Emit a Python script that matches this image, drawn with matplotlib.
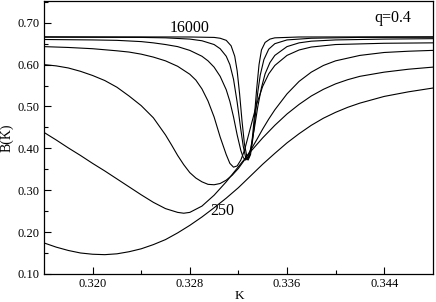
import numpy as np
import matplotlib
matplotlib.use("Agg")
import matplotlib.pyplot as plt

plt.rcParams["font.family"] = "Liberation Serif"

# Binder cumulant B(K) for q=0.4, one curve per system size
k_250 = [0.316, 0.317, 0.318, 0.319, 0.320, 0.321, 0.322, 0.323, 0.324, 0.325,
         0.326, 0.327, 0.328, 0.329, 0.330, 0.331, 0.332, 0.333, 0.334, 0.335,
         0.336, 0.337, 0.338, 0.339, 0.340, 0.341, 0.342, 0.343, 0.344, 0.346, 0.348]
b_250 = [0.174, 0.164, 0.156, 0.150, 0.147, 0.146, 0.148, 0.153, 0.160, 0.170,
         0.182, 0.198, 0.216, 0.236, 0.258, 0.281, 0.306, 0.334, 0.362, 0.388,
         0.413, 0.435, 0.455, 0.472, 0.486, 0.498, 0.508, 0.516, 0.524, 0.535, 0.544]

k_500 = [0.316, 0.317, 0.318, 0.319, 0.320, 0.321, 0.322, 0.323, 0.324, 0.325,
         0.326, 0.327, 0.3275, 0.328, 0.329, 0.330, 0.331, 0.332, 0.333, 0.334,
         0.335, 0.336, 0.337, 0.338, 0.339, 0.340, 0.341, 0.342, 0.344, 0.346, 0.348]
b_500 = [0.438, 0.420, 0.401, 0.383, 0.364, 0.346, 0.327, 0.308, 0.289, 0.271,
         0.256, 0.247, 0.245, 0.247, 0.262, 0.288, 0.320, 0.356, 0.392, 0.425,
         0.455, 0.482, 0.505, 0.525, 0.541, 0.554, 0.564, 0.572, 0.582, 0.589, 0.594]

k_1000 = [0.316, 0.317, 0.318, 0.319, 0.320, 0.321, 0.322, 0.323, 0.324, 0.325,
          0.326, 0.3265, 0.327, 0.3275, 0.328, 0.3285, 0.329, 0.3295, 0.330, 0.3305,
          0.331, 0.3315, 0.332, 0.3325, 0.333, 0.3335, 0.334, 0.3345, 0.335, 0.336,
          0.337, 0.338, 0.339, 0.340, 0.342, 0.344, 0.346, 0.348]
b_1000 = [0.600, 0.597, 0.592, 0.584, 0.574, 0.562, 0.546, 0.525, 0.502, 0.473,
          0.432, 0.408, 0.383, 0.361, 0.342, 0.329, 0.320, 0.314, 0.313, 0.316,
          0.324, 0.336, 0.352, 0.372, 0.395, 0.420, 0.446, 0.470, 0.492, 0.530,
          0.560, 0.582, 0.598, 0.609, 0.622, 0.629, 0.632, 0.634]

k_2000 = [0.316, 0.318, 0.320, 0.322, 0.323, 0.324, 0.325, 0.326, 0.327, 0.328,
          0.3285, 0.329, 0.3295, 0.330, 0.3305, 0.331, 0.3313, 0.3316, 0.3319, 0.3322,
          0.3325, 0.333, 0.3335, 0.334, 0.3345, 0.335, 0.336, 0.337, 0.338, 0.340,
          0.344, 0.348]
b_2000 = [0.643, 0.641, 0.638, 0.633, 0.630, 0.625, 0.618, 0.609, 0.596, 0.577,
          0.563, 0.542, 0.513, 0.475, 0.427, 0.385, 0.364, 0.355, 0.358, 0.372,
          0.395, 0.450, 0.505, 0.548, 0.578, 0.598, 0.622, 0.635, 0.642, 0.648,
          0.651, 0.652]

k_4000 = [0.316, 0.320, 0.322, 0.324, 0.325, 0.326, 0.327, 0.328, 0.329, 0.3295,
          0.330, 0.3305, 0.331, 0.3313, 0.3316, 0.3319, 0.3322, 0.3324, 0.3326, 0.3328,
          0.3330, 0.3333, 0.3336, 0.3339, 0.3342, 0.3346, 0.335, 0.336, 0.337, 0.338,
          0.340, 0.344, 0.348]
b_4000 = [0.660, 0.659, 0.658, 0.655, 0.652, 0.648, 0.643, 0.634, 0.620, 0.609,
          0.594, 0.572, 0.540, 0.512, 0.475, 0.432, 0.395, 0.378, 0.372, 0.378,
          0.398, 0.445, 0.500, 0.545, 0.578, 0.605, 0.622, 0.643, 0.652, 0.656,
          0.659, 0.661, 0.662]

k_8000 = [0.316, 0.324, 0.326, 0.328, 0.329, 0.330, 0.3305, 0.331, 0.3313, 0.3316,
          0.3319, 0.3322, 0.3324, 0.3326, 0.3328, 0.3330, 0.3332, 0.3334, 0.3336, 0.3338,
          0.3341, 0.3345, 0.335, 0.336, 0.338, 0.342, 0.348]
b_8000 = [0.6655, 0.665, 0.664, 0.661, 0.657, 0.648, 0.638, 0.620, 0.600, 0.565,
          0.510, 0.445, 0.405, 0.378, 0.372, 0.385, 0.425, 0.480, 0.535, 0.575,
          0.612, 0.637, 0.650, 0.659, 0.663, 0.665, 0.6655]

k_16000 = [0.316, 0.328, 0.330, 0.3305, 0.331, 0.3314, 0.3317, 0.3319, 0.3321, 0.3323,
           0.3325, 0.3327, 0.3328, 0.3329, 0.3331, 0.3333, 0.3335, 0.3337, 0.3339, 0.3342,
           0.3346, 0.335, 0.337, 0.348]
b_16000 = [0.6665, 0.666, 0.665, 0.663, 0.658, 0.645, 0.620, 0.585, 0.530, 0.465,
           0.410, 0.380, 0.376, 0.380, 0.410, 0.470, 0.540, 0.600, 0.635, 0.653,
           0.661, 0.664, 0.666, 0.6665]

curves = [(k_250, b_250), (k_500, b_500), (k_1000, b_1000), (k_2000, b_2000),
          (k_4000, b_4000), (k_8000, b_8000), (k_16000, b_16000)]

x_ticks = [0.320, 0.328, 0.336, 0.344]
y_ticks = [0.10, 0.20, 0.30, 0.40, 0.50, 0.60, 0.70]

fig = plt.figure(figsize=(4.36, 3.02), dpi=100)
ax = fig.add_axes([0.101, 0.093, 0.8915, 0.9037])

for k, b in curves:
    ax.plot(k, b, color="black", lw=0.8)

ax.set_xlim(0.316, 0.348)
ax.set_ylim(0.10, 0.752)
ax.set_xticks(x_ticks)
ax.set_xticklabels([f"{t:.3f}" for t in x_ticks])
ax.set_xticks([0.324, 0.332, 0.340], minor=True)
ax.set_yticks(y_ticks)
ax.set_yticklabels([f"{t:.2f}" for t in y_ticks])
ax.set_yticks([0.15, 0.25, 0.35, 0.45, 0.55, 0.65, 0.75], minor=True)
ax.tick_params(direction="in", length=5, width=0.8, labelsize=9, pad=3)
ax.tick_params(which="minor", direction="in", length=3, width=0.8)
for s in ax.spines.values():
    s.set_linewidth(0.9)

ax.set_xlabel("K", fontsize=9.5)
ax.xaxis.set_label_coords(0.502, -0.058)
ax.set_ylabel("B(K)", fontsize=10, labelpad=3)

ax.text(0.3280, 0.687, "16000", fontsize=11.5, ha="center", va="center")
ax.text(0.33069, 0.250, "250", fontsize=11.5, ha="center", va="center")
ax.text(0.34471, 0.7105, "q=0.4", fontsize=11.5, ha="center", va="center")

fig.savefig("out.png", dpi=100)
